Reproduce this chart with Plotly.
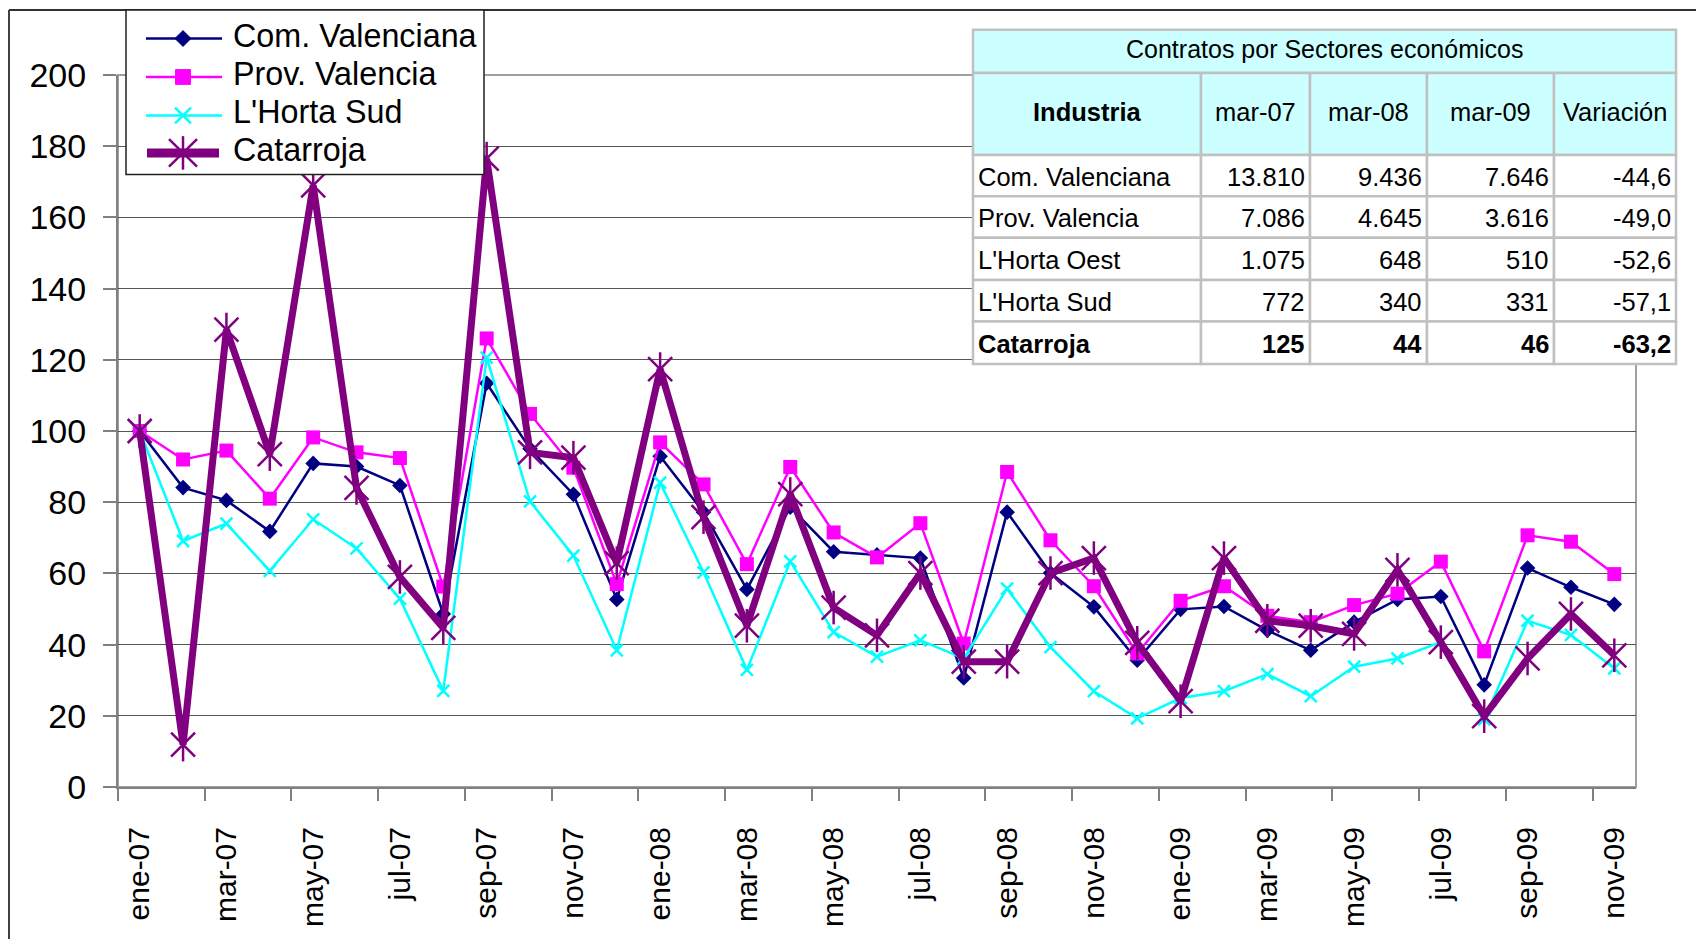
import plotly.graph_objects as go

# ---------------- data ----------------
month_names = ["ene", "feb", "mar", "abr", "may", "jun", "jul", "ago", "sep", "oct", "nov", "dic"]
months = [f"{m}-{y}" for y in ["07", "08", "09"] for m in month_names][:35]

com_valenciana = [100, 84.1, 80.5, 71.8, 90.9, 90.0, 84.7, 48.6, 113.4, 95.0, 82.2, 52.7, 92.9, 77.2, 55.5,
                  78.6, 66.1, 65.2, 64.3, 30.6, 77.2, 60.1, 50.6, 35.6, 49.9, 50.7, 44.0, 38.4, 46.3, 52.7,
                  53.5, 28.7, 61.5, 56.1, 51.3]
prov_valencia = [100, 92.0, 94.5, 81.0, 98.2, 94.0, 92.4, 56.3, 126.0, 104.8, 89.7, 57.0, 96.8, 85.0, 62.6,
                 89.9, 71.5, 64.5, 74.1, 40.3, 88.5, 69.3, 56.4, 37.5, 52.3, 56.4, 48.1, 46.3, 51.1, 54.3,
                 63.3, 38.1, 70.7, 68.9, 59.8]
horta_sud = [100, 69.1, 74.0, 60.7, 75.2, 67.0, 52.9, 27.0, 120.6, 80.2, 65.0, 38.4, 85.5, 60.3, 32.9,
             63.4, 43.5, 36.6, 41.2, 36.1, 55.7, 39.3, 26.9, 19.3, 25.0, 26.9, 31.7, 25.5, 33.8, 36.1,
             40.7, 19.0, 46.7, 42.7, 33.3]
catarroja = [100, 11.9, 128.5, 93.5, 169.0, 84.0, 59.0, 44.7, 176.5, 94.0, 92.5, 62.9, 117.4, 75.8, 45.3,
             82.3, 50.4, 42.6, 60.1, 35.2, 35.2, 60.1, 64.3, 40.5, 24.1, 64.3, 46.7, 45.3, 43.0, 61.0,
             40.7, 19.9, 36.1, 48.6, 37.0]

series_names = ["Com. Valenciana", "Prov. Valencia", "L'Horta Sud", "Catarroja"]

y_ticks = list(range(0, 201, 20))

table_title = "Contratos por Sectores económicos"
table_header = ["Industria", "mar-07", "mar-08", "mar-09", "Variación"]
table_regions = ["Com. Valenciana", "Prov. Valencia", "L'Horta Oest", "L'Horta Sud", "Catarroja"]
table_mar07 = ["13.810", "7.086", "1.075", "772", "125"]
table_mar08 = ["9.436", "4.645", "648", "340", "44"]
table_mar09 = ["7.646", "3.616", "510", "331", "46"]
table_variacion = ["-44,6", "-49,0", "-52,6", "-57,1", "-63,2"]

# ---------------- styles ----------------
NAVY, MAGENTA, CYAN, PURPLE = "#000080", "#FF00FF", "#00FFFF", "#800080"
ARIAL = "Liberation Sans, Arial, sans-serif"

OFF = 8                      # body margin of the page
W, H = 1704 - 2 * OFF, 947 - 2 * OFF
PL, PR, PT, PB = 118, 1636, 75, 797   # plot area in page pixels


def X(px):
    return (px - PL) / (PR - PL)


def Y(py):
    return (PB - py) / (PB - PT)


xs = list(range(len(months)))

fig = go.Figure()
fig.add_trace(go.Scatter(x=xs, y=com_valenciana, mode="lines+markers", name=series_names[0],
                         line=dict(color=NAVY, width=2.5),
                         marker=dict(symbol="diamond", size=12, color=NAVY)))
fig.add_trace(go.Scatter(x=xs, y=prov_valencia, mode="lines+markers", name=series_names[1],
                         line=dict(color=MAGENTA, width=2.5),
                         marker=dict(symbol="square", size=14, color=MAGENTA)))
fig.add_trace(go.Scatter(x=xs, y=horta_sud, mode="lines+markers", name=series_names[2],
                         line=dict(color=CYAN, width=2.5),
                         marker=dict(symbol="x-thin", size=12, line=dict(color=CYAN, width=2.5))))
fig.add_trace(go.Scatter(x=xs, y=catarroja, mode="lines+markers", name=series_names[3],
                         line=dict(color=PURPLE, width=7),
                         marker=dict(symbol="x-thin", size=24, line=dict(color=PURPLE, width=2.5))))
fig.add_trace(go.Scatter(x=xs, y=catarroja, mode="markers", showlegend=False, hoverinfo="skip",
                         marker=dict(symbol="line-ns", size=24, line=dict(color=PURPLE, width=2.5))))

shapes = []
annotations = []

# plot area border
shapes.append(dict(type="rect", xref="paper", yref="paper", x0=0, x1=1, y0=0, y1=1,
                   line=dict(color="#A0A0A0", width=2), layer="below"))
# outer frame (top and left)
shapes.append(dict(type="line", xref="paper", yref="paper", x0=X(9), x1=X(1710), y0=Y(9), y1=Y(9),
                   line=dict(color="#303030", width=2), layer="above"))
shapes.append(dict(type="line", xref="paper", yref="paper", x0=X(9), x1=X(9), y0=Y(9), y1=Y(960),
                   line=dict(color="#404040", width=2), layer="above"))

# ---------------- custom legend ----------------
LG_L, LG_R, LG_T, LG_B = 126, 484, 9, 176
shapes.append(dict(type="rect", xref="paper", yref="paper", x0=X(LG_L), x1=X(LG_R), y0=Y(LG_T), y1=Y(LG_B),
                   fillcolor="white", line=dict(color="#202020", width=1.5), layer="above"))
leg_rows = [38, 77, 116, 154]
leg_colors = [NAVY, MAGENTA, CYAN, PURPLE]
leg_widths = [2.5, 2.5, 2.5, 9]
MX = 183


def path(points, close=False):
    s = "M" + " L".join(f"{X(a):.6f},{Y(b):.6f}" for a, b in points)
    return s + (" Z" if close else "")


for i, (ry, col, lw) in enumerate(zip(leg_rows, leg_colors, leg_widths)):
    shapes.append(dict(type="line", xref="paper", yref="paper", x0=X(146 if i < 3 else 147),
                       x1=X(222 if i < 3 else 219), y0=Y(ry), y1=Y(ry),
                       line=dict(color=col, width=lw), layer="above"))
    annotations.append(dict(text=series_names[i], xref="paper", yref="paper", x=X(231), y=Y(ry - 3),
                            xanchor="left", yanchor="middle", showarrow=False,
                            font=dict(family=ARIAL, size=32.3, color="black")))
# legend markers
d = 8
shapes.append(dict(type="path", xref="paper", yref="paper",
                   path=path([(MX, leg_rows[0] - d), (MX + d, leg_rows[0]), (MX, leg_rows[0] + d),
                              (MX - d, leg_rows[0])], True),
                   fillcolor=NAVY, line=dict(color=NAVY, width=1), layer="above"))
s = 7.5
shapes.append(dict(type="path", xref="paper", yref="paper",
                   path=path([(MX - s, leg_rows[1] - s), (MX + s, leg_rows[1] - s), (MX + s, leg_rows[1] + s),
                              (MX - s, leg_rows[1] + s)], True),
                   fillcolor=MAGENTA, line=dict(color=MAGENTA, width=1), layer="above"))
c = 8
for a, b in [((MX - c, leg_rows[2] - c), (MX + c, leg_rows[2] + c)),
             ((MX - c, leg_rows[2] + c), (MX + c, leg_rows[2] - c))]:
    shapes.append(dict(type="path", xref="paper", yref="paper", path=path([a, b]),
                       line=dict(color=CYAN, width=2.5), layer="above"))
c, v = 14, 17
for a, b in [((MX - c, leg_rows[3] - c), (MX + c, leg_rows[3] + c)),
             ((MX - c, leg_rows[3] + c), (MX + c, leg_rows[3] - c)),
             ((MX, leg_rows[3] - v), (MX, leg_rows[3] + v))]:
    shapes.append(dict(type="path", xref="paper", yref="paper", path=path([a, b]),
                       line=dict(color=PURPLE, width=2.5), layer="above"))

# ---------------- table ----------------
col_edges = [973, 1201, 1310, 1427, 1554, 1676]
TT, TH, HB = 29, 73, 156
row_edges = [156, 198, 240, 283, 325, 368]
GRID = "#C0C0C0"
CYANBG = "#CCFFFF"
TFONT = 25.5

shapes.append(dict(type="rect", xref="paper", yref="paper", x0=X(col_edges[0]), x1=X(col_edges[-1]),
                   y0=Y(TT), y1=Y(TH), fillcolor=CYANBG, line=dict(color=GRID, width=2.5), layer="above"))
annotations.append(dict(text=table_title, xref="paper", yref="paper",
                        x=X((col_edges[0] + col_edges[-1]) / 2), y=Y((TT + TH) / 2 - 2),
                        xanchor="center", yanchor="middle", showarrow=False,
                        font=dict(family=ARIAL, size=25, color="black")))
for j in range(5):
    shapes.append(dict(type="rect", xref="paper", yref="paper", x0=X(col_edges[j]), x1=X(col_edges[j + 1]),
                       y0=Y(TH), y1=Y(HB), fillcolor=CYANBG, line=dict(color=GRID, width=2.5), layer="above"))
    txt = f"<b>{table_header[j]}</b>" if j == 0 else table_header[j]
    annotations.append(dict(text=txt, xref="paper", yref="paper",
                            x=X((col_edges[j] + col_edges[j + 1]) / 2), y=Y((TH + HB) / 2 - 2),
                            xanchor="center", yanchor="middle", showarrow=False,
                            font=dict(family=ARIAL, size=TFONT, color="black")))

columns = [table_regions, table_mar07, table_mar08, table_mar09, table_variacion]
for r in range(5):
    for j in range(5):
        shapes.append(dict(type="rect", xref="paper", yref="paper", x0=X(col_edges[j]), x1=X(col_edges[j + 1]),
                           y0=Y(row_edges[r]), y1=Y(row_edges[r + 1]), fillcolor="white",
                           line=dict(color=GRID, width=2.5), layer="above"))
        txt = columns[j][r]
        if r == 4:
            txt = f"<b>{txt}</b>"
        if j == 0:
            xa, xpos = "left", X(col_edges[0] + 3)
        else:
            xa, xpos = "right", X(col_edges[j + 1] - 3)
        annotations.append(dict(text=txt, xref="paper", yref="paper", x=xpos,
                                y=Y((row_edges[r] + row_edges[r + 1]) / 2 + 1),
                                xanchor=xa, yanchor="middle", showarrow=False,
                                font=dict(family=ARIAL, size=TFONT, color="black")))

fig.update_layout(
    width=W, height=H,
    margin=dict(l=PL - OFF, r=W + OFF - PR, t=PT - OFF, b=H + OFF - PB, pad=0),
    paper_bgcolor="white", plot_bgcolor="white",
    showlegend=False,
    shapes=shapes, annotations=annotations,
    xaxis=dict(range=[-0.5, len(months) - 0.5], tickmode="array", tickvals=xs[::2],
               ticktext=months[::2], tickangle=-90, ticks="outside", ticklen=12,
               tickcolor="rgba(0,0,0,0)", ticklabelstandoff=14,
               tickfont=dict(family=ARIAL, size=30, color="black"),
               showline=True, linecolor="#808080", linewidth=2, showgrid=False, zeroline=False,
               minor=dict(tickmode="array", tickvals=[i - 0.5 for i in xs[::2]], ticks="outside",
                          ticklen=12, tickcolor="#808080", tickwidth=1.5, showgrid=False)),
    yaxis=dict(range=[0, 200], tickmode="array", tickvals=y_ticks, ticks="outside", ticklen=13,
               tickcolor="#808080", tickwidth=1.5, ticklabelstandoff=10,
               tickfont=dict(family=ARIAL, size=34, color="black"),
               showline=True, linecolor="#808080", linewidth=2, showgrid=True,
               gridcolor="#555555", gridwidth=1, zeroline=False),
)

fig.write_html("out.html")
